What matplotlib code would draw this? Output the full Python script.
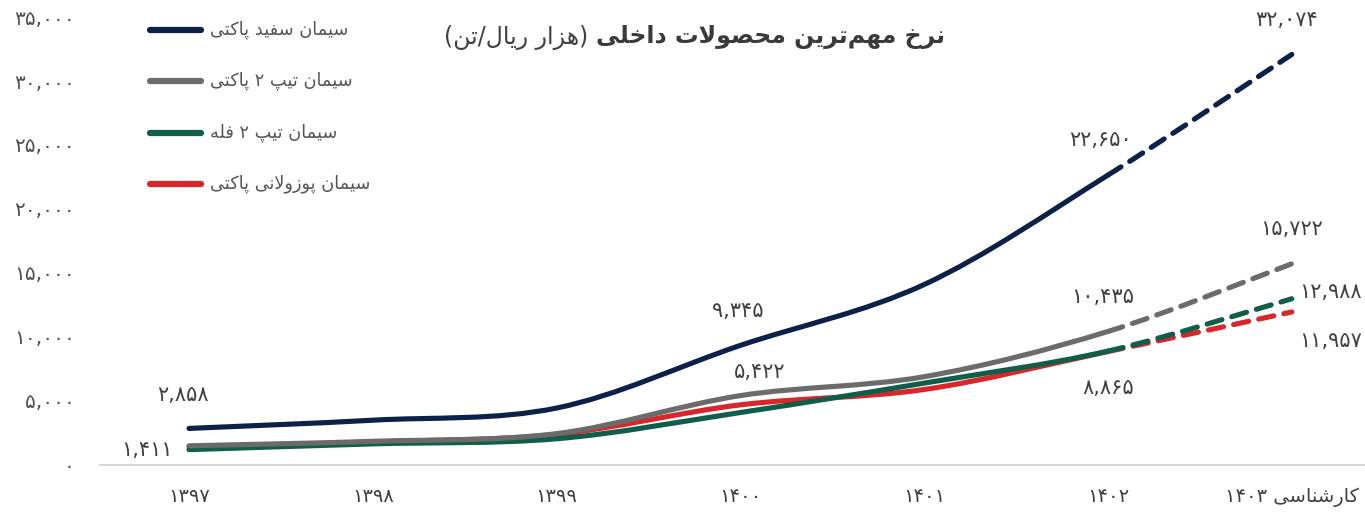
import re
import matplotlib
matplotlib.use("Agg")
import matplotlib.pyplot as plt
from matplotlib.path import Path
from matplotlib.patches import PathPatch
from matplotlib.lines import Line2D
from matplotlib.ticker import FuncFormatter

# data
years = ["۱۳۹۷", "۱۳۹۸", "۱۳۹۹", "۱۴۰۰", "۱۴۰۱", "۱۴۰۲", "کارشناسی ۱۴۰۳"]
white_pack = [2858, 3500, 4450, 9345, 14100, 22650, 32074]
type2_pack = [1500, 1850, 2450, 5422, 6900, 10435, 15722]
type2_bulk = [1200, 1650, 2050, 4100, 6400, 8900, 12988]
pozz_pack = [1411, 1800, 2400, 4700, 5900, 8865, 11957]

names = ["سیمان سفید پاکتی", "سیمان تیپ ۲ پاکتی", "سیمان تیپ ۲ فله", "سیمان پوزولانی پاکتی"]
colors = ["#0b2148", "#6b6b6b", "#0e5e4a", "#d8262a"]

# which points get a value label, and offset in points
labels = {
    0: [(0, (-4, 24)), (3, (-2, 25)), (5, (-5, 25)), (6, (-4, 25))],
    1: [(3, (14, 17)), (5, (-4, 25)), (6, (0, 25))],
    2: [(6, (28, 5))],
    3: [(0, (-30, -2)), (5, (0, -26)), (6, (28, -21))],
}

RIGHT_ONLY = set("اآدذرزژو")
FORMS = {
    "ا": ("\uFE8D", "\uFE8E", None, None),
    "د": ("\uFEA9", "\uFEAA", None, None),
    "ر": ("\uFEAD", "\uFEAE", None, None),
    "ز": ("\uFEAF", "\uFEB0", None, None),
    "و": ("\uFEED", "\uFEEE", None, None),
    "ت": ("\uFE95", "\uFE96", "\uFE97", "\uFE98"),
    "ح": ("\uFEA1", "\uFEA2", "\uFEA3", "\uFEA4"),
    "خ": ("\uFEA5", "\uFEA6", "\uFEA7", "\uFEA8"),
    "س": ("\uFEB1", "\uFEB2", "\uFEB3", "\uFEB4"),
    "ش": ("\uFEB5", "\uFEB6", "\uFEB7", "\uFEB8"),
    "ص": ("\uFEB9", "\uFEBA", "\uFEBB", "\uFEBC"),
    "ف": ("\uFED1", "\uFED2", "\uFED3", "\uFED4"),
    "ل": ("\uFEDD", "\uFEDE", "\uFEDF", "\uFEE0"),
    "م": ("\uFEE1", "\uFEE2", "\uFEE3", "\uFEE4"),
    "ن": ("\uFEE5", "\uFEE6", "\uFEE7", "\uFEE8"),
    "ه": ("\uFEE9", "\uFEEA", "\uFEEB", "\uFEEC"),
    "ی": ("\uFBFC", "\uFBFD", "\uFBFE", "\uFBFF"),
    "پ": ("\uFB56", "\uFB57", "\uFB58", "\uFB59"),
    "ک": ("\uFB8E", "\uFB8F", "\uFB90", "\uFB91"),
}


def shape(s):
    out = []
    i = 0
    while i < len(s):
        c = s[i]
        if c not in FORMS:
            out.append(c)
            i += 1
            continue
        prev = s[i - 1] if i > 0 else ""
        cp = prev in FORMS and prev not in RIGHT_ONLY
        if c == "ل" and i + 1 < len(s) and s[i + 1] == "ا":
            out.append("\uFEFC" if cp else "\uFEFB")
            i += 2
            continue
        nxt = s[i + 1] if i + 1 < len(s) else ""
        cn = c not in RIGHT_ONLY and nxt in FORMS
        iso, fin, ini, med = FORMS[c]
        out.append(med if cp and cn else fin if cp else ini if cn else iso)
        i += 1
    return "".join(out).replace("\u200c", "")


def fa(s):
    toks = re.findall(r"[۰-۹0-9][۰-۹0-9,]*|.", shape(s))
    mirror = {"(": ")", ")": "("}
    return "".join(mirror.get(t, t) for t in reversed(toks))


def fa_num(v):
    return f"{int(v):,}".translate(str.maketrans("0123456789", "۰۱۲۳۴۵۶۷۸۹"))


def smooth_path(xs, ys, i0, i1):
    # catmull-rom style bezier between points i0..i1
    n = len(xs)
    pts = list(zip(xs, ys))
    verts = [pts[i0]]
    codes = [Path.MOVETO]
    for i in range(i0, i1):
        p0 = pts[max(i - 1, 0)]
        p1 = pts[i]
        p2 = pts[i + 1]
        p3 = pts[min(i + 2, n - 1)]
        c1 = (p1[0] + (p2[0] - p0[0]) / 6, p1[1] + (p2[1] - p0[1]) / 6)
        c2 = (p2[0] - (p3[0] - p1[0]) / 6, p2[1] - (p3[1] - p1[1]) / 6)
        verts += [c1, c2, p2]
        codes += [Path.CURVE4] * 3
    return Path(verts, codes)


plt.rcParams["font.family"] = ["DejaVu Sans"]

fig = plt.figure(figsize=(13.65, 5.17), dpi=100)
ax = fig.add_axes([100 / 1365, 52 / 517, 1265 / 1365, 448 / 517])

xs = list(range(len(years)))
series = [white_pack, type2_pack, type2_bulk, pozz_pack]
for k in [3, 2, 1, 0]:
    ys = series[k]
    solid = smooth_path(xs, ys, 0, 5)
    dash = smooth_path(xs, ys, 5, 6)
    ax.add_patch(PathPatch(solid, fill=False, ec=colors[k], lw=3.7,
                           capstyle="round", joinstyle="round", zorder=3))
    ax.add_patch(PathPatch(dash, fill=False, ec=colors[k], lw=3.7,
                           linestyle=(0, (3, 2)), capstyle="round", zorder=3))
    for idx, off in labels[k]:
        ax.annotate(fa_num(ys[idx]), (xs[idx], ys[idx]), xytext=off,
                    textcoords="offset points", ha="center", va="center",
                    fontsize=15, color="#404040")

# category centres at about 189 px + 183.8 px per step
ax.set_xlim((100 - 189) / 183.8, (1365 - 189) / 183.8)
ax.set_ylim(0, 35000)
ax.set_xticks(xs)
ax.set_xticklabels([fa(y) for y in years], fontsize=14, color="#404040")
ax.set_yticks(range(0, 35001, 5000))
ax.yaxis.set_major_formatter(FuncFormatter(lambda v, p: fa_num(v)))
ax.tick_params(axis="y", length=0, pad=18, labelsize=14.5, labelcolor="#505050")
ax.tick_params(axis="x", length=0, pad=16)
for s in ["top", "right", "left"]:
    ax.spines[s].set_visible(False)
ax.spines["bottom"].set_color("#d0d0d0")
ax.spines["bottom"].set_linewidth(1.2)
ax.set_facecolor("none")

# legend drawn by hand at top-left
leg_y = [30, 81, 133, 184]
for k in range(4):
    yy = 1 - leg_y[k] / 517
    fig.add_artist(Line2D([150 / 1365, 201 / 1365], [yy, yy], color=colors[k],
                          lw=4.5, solid_capstyle="round"))
    fig.text(210 / 1365, yy, fa(names[k]), fontsize=12.8, color="#555555",
             ha="left", va="center")

# title: bold part on the right, unit in parentheses on the left
t1 = fig.text(945 / 1365, 1 - 37 / 517, fa("نرخ مهم\u200cترین محصولات داخلی"),
              fontsize=17, fontweight="bold", color="#3a3a3a", ha="right", va="center")
fig.canvas.draw()
bb = t1.get_window_extent()
fig.text((bb.x0 - 8) / 1365, 1 - 37 / 517, fa("(هزار ریال/تن)"), fontsize=17,
         color="#404040", ha="right", va="center")

fig.savefig("out.png", dpi=100, facecolor="white")
